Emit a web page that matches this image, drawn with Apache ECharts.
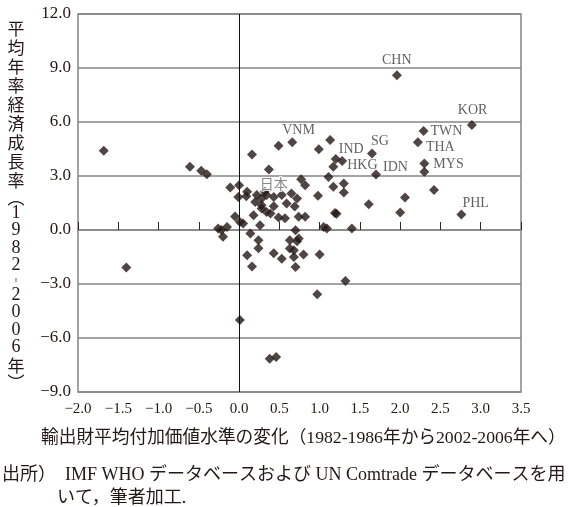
<!DOCTYPE html>
<html>
<head>
<meta charset="utf-8">
<script src="https://cdn.jsdelivr.net/npm/echarts@6/dist/echarts.min.js"></script>
<style>
  html, body { margin: 0; padding: 0; background: #fff; }
  #chart { width: 569px; height: 507px; }
</style>
</head>
<body>
<div id="chart"></div>
<script>
// Axis ranges and tick steps
const xMin = -2.0, xMax = 3.5, xStep = 0.5;
const yMin = -9.0, yMax = 12.0, yStep = 3.0;

// Named economies: change in average export value-added level vs. annual growth
const countryNames = ['CHN', 'KOR', 'TWN', 'THA', 'MYS', 'SG', 'IDN', 'IND', 'HKG', 'VNM', '日本', 'PHL'];
const countryX     = [1.96, 2.89, 2.29, 2.22, 2.30, 1.65, 1.70, 1.20, 1.28, 0.66, 0.22, 2.76];
const countryY     = [8.60, 5.83, 5.50, 4.87, 3.70, 4.25, 3.08, 3.94, 3.83, 4.87, 1.94, 0.86];

// Remaining (unlabelled) economies
const otherX = [
  -1.68, -1.40, -0.61, -0.47, -0.40, -0.26, -0.22, -0.20, -0.15, -0.11,
  -0.05, 0.00, -0.01, 0.01, 0.05, 0.01, 0.10, 0.09, 0.10, 0.14,
  0.16, 0.16, 0.18, 0.20, 0.32, 0.24, 0.24, 0.26, 0.28, 0.28,
  0.28, 0.34, 0.34, 0.39, 0.43, 0.37, 0.38, 0.46, 0.43, 0.43,
  0.49, 0.49, 0.53, 0.53, 0.57, 0.59, 0.65, 0.63, 0.63, 0.69,
  0.70, 0.68, 0.68, 0.70, 0.72, 0.74, 0.72, 0.74, 0.77, 0.80,
  0.82, 0.82, 0.97, 0.98, 0.99, 1.00, 1.05, 1.09, 1.11, 1.13,
  1.17, 1.17, 1.19, 1.21, 1.30, 1.30, 1.32, 1.40, 1.61, 2.00,
  2.06, 2.30, 2.42
];
const otherY = [
  4.40, -2.09, 3.51, 3.29, 3.10, 0.08, 0.00, -0.38, 0.17, 2.36,
  0.75, 2.49, 1.84, 0.45, 0.36, -5.00, 2.12, 1.88, -1.40, -0.19,
  -2.03, 4.20, 0.82, 1.56, 2.12, -0.57, -1.01, 0.27, 1.20, 1.38,
  1.75, 1.94, 1.00, 0.92, 1.32, 3.36, -7.15, -7.06, 1.84, -1.29,
  0.70, 4.68, 1.94, -1.60, 0.65, 1.47, 2.03, -0.57, -1.03, 1.30,
  -0.01, -1.12, -1.50, -2.05, 1.75, -0.47, -0.62, 0.73, 2.82, -1.36,
  2.49, 0.73, -3.57, 1.90, 4.49, -1.36, 0.17, 0.08, 2.95, 5.00,
  3.51, 2.40, 0.95, 0.90, 2.59, 2.08, -2.83, 0.08, 1.43, 0.97,
  1.80, 3.23, 2.22
];

// Axis and note texts
const yTitle = '平均年率経済成長率︵1982︲2006年︶';
const xTitle = '輸出財平均付加価値水準の変化（1982-1986年から2002-2006年へ）';
const noteLine1 = '出所）  IMF WHO データベースおよび UN Comtrade データベースを用';
const noteLine2 = 'いて，筆者加工.';

// Label offsets (relative to the marker box) for the named points
const labelOffset = {
  'CHN': [-10, -10], 'KOR': [-9, -10], 'TWN': [12, 5], 'THA': [13, 10],
  'MYS': [14, 6], 'SG': [4, -7], 'IDN': [12, -2], 'IND': [8, -5],
  'HKG': [10, 9], 'VNM': [-5, -7], '日本': [8, -5], 'PHL': [6, -6]
};

const INK = '#231815';
const SERIF = '"Liberation Serif", "Noto Sans CJK JP", serif';
const fmt = v => v.toFixed(1).replace('-', '\u2212');

const otherData = otherX.map((x, i) => [x, otherY[i]]);
const namedData = countryNames.map((n, i) => ({
  name: n,
  value: [countryX[i], countryY[i]],
  label: {
    show: true,
    position: labelOffset[n],
    align: 'left',
    verticalAlign: 'middle',
    color: n === '日本' ? '#6b6b6b' : '#3a3a3a',
    textBorderColor: n === '日本' ? '#fff' : 'transparent',
    textBorderWidth: n === '日本' ? 2 : 0
  }
}));

// Vertical y-axis title, one glyph per row
function glyphHeight(ch) {
  if (/[0-9]/.test(ch)) return 17.5;
  if (ch === '︲') return 12;
  if (ch === '︵' || ch === '︶') return 14;
  return 19;
}
const yTitleGlyphs = [];
{
  let cy = 29, prevH = null;
  for (const ch of Array.from(yTitle)) {
    const h = glyphHeight(ch);
    if (prevH !== null) cy += (prevH + h) / 2;
    yTitleGlyphs.push({
      type: 'text',
      x: 16, y: cy,
      style: {
        text: ch,
        fill: INK,
        font: (/[0-9]/.test(ch) ? '18px "Liberation Serif"' : '17px "Noto Sans CJK JP"'),
        textAlign: 'center',
        textVerticalAlign: 'middle'
      }
    });
    prevH = h;
  }
}

const chart = echarts.init(document.getElementById('chart'), null, { renderer: 'canvas' });
chart.setOption({
  animation: false,
  backgroundColor: '#fff',
  grid: {
    left: 78, right: 48, top: 14, bottom: 115,
    show: true, borderColor: '#858585', borderWidth: 1.5, backgroundColor: 'transparent'
  },
  xAxis: [
    {
      type: 'value', min: xMin, max: xMax, interval: xStep, position: 'bottom',
      axisLine: { show: false, onZero: false },
      axisTick: { show: false },
      splitLine: { show: false },
      axisLabel: { margin: 10, fontFamily: SERIF, fontSize: 15, color: INK, formatter: fmt }
    },
    {
      // Tick marks riding on the zero line
      type: 'value', min: xMin, max: xMax, interval: xStep, position: 'bottom',
      axisLine: { show: true, onZero: true, lineStyle: { color: '#858585', width: 1.5 } },
      axisTick: { show: true, inside: true, length: 8, lineStyle: { color: '#2a2a2a', width: 1 } },
      axisLabel: { show: false },
      splitLine: { show: false }
    }
  ],
  yAxis: {
    type: 'value', min: yMin, max: yMax, interval: yStep,
    axisLine: { show: false },
    axisTick: { show: false },
    splitLine: { show: true, lineStyle: { color: '#858585', width: 1.5 } },
    axisLabel: { margin: 7, fontFamily: SERIF, fontSize: 17, color: INK, formatter: fmt }
  },
  series: [
    {
      type: 'scatter',
      symbol: 'diamond', symbolSize: 10,
      itemStyle: { color: INK },
      data: otherData,
      markLine: {
        silent: true, symbol: 'none', label: { show: false },
        lineStyle: { color: '#111', width: 1, type: 'solid' },
        data: [{ xAxis: 0 }]
      },
      z: 3
    },
    {
      type: 'scatter',
      symbol: 'diamond', symbolSize: 10,
      itemStyle: { color: INK },
      label: { fontFamily: SERIF, fontSize: 14, formatter: '{b}' },
      data: namedData,
      z: 4
    }
  ],
  graphic: [
    ...yTitleGlyphs,
    {
      type: 'text', left: 41, top: 430,
      style: { text: xTitle, fill: INK, font: '17.7px "Liberation Serif", "Noto Sans CJK JP"' }
    },
    {
      type: 'text', left: 2, top: 466,
      style: { text: noteLine1, fill: INK, font: '18px "Liberation Serif", "Noto Sans CJK JP"' }
    },
    {
      type: 'text', left: 57, top: 489,
      style: { text: noteLine2, fill: INK, font: '18px "Liberation Serif", "Noto Sans CJK JP"' }
    }
  ]
});
</script>
</body>
</html>
